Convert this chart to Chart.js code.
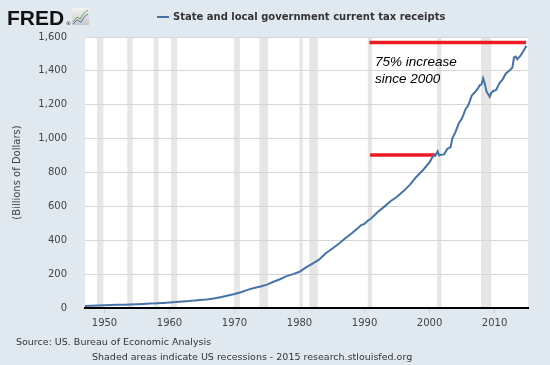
<!DOCTYPE html>
<html>
<head>
<meta charset="utf-8">
<script src="https://cdn.jsdelivr.net/npm/chart.js@4.4.1/dist/chart.umd.min.js"></script>
<style>
html, body { margin: 0; padding: 0; background: #e1e9f0; }
</style>
</head>
<body>
<canvas id="myChart" width="550" height="365"></canvas>
<script>
// State and local government current tax receipts (billions of dollars, SAAR)
const years = [
    1947, 1948, 1949, 1950, 1951, 1952, 1953, 1954, 1955, 1956,
    1957, 1958, 1959, 1960, 1961, 1962, 1963, 1964, 1965, 1966,
    1967, 1968, 1969, 1970, 1971, 1972, 1973, 1974, 1975, 1976,
    1977, 1978, 1979, 1980, 1981, 1982, 1983, 1984, 1985, 1986,
    1987, 1988, 1989, 1989.5, 1990, 1990.5, 1991, 1992, 1993, 1994,
    1995, 1996, 1997, 1998, 1999, 2000, 2000.5, 2001, 2001.25, 2001.5,
    2001.75, 2002.25, 2002.75, 2003.25, 2003.5, 2004, 2004.5, 2005, 2005.5, 2006,
    2006.5, 2007, 2007.5, 2007.75, 2008, 2008.25, 2008.5, 2008.75, 2009.25, 2009.5,
    2009.75, 2010.25, 2010.75, 2011.25, 2011.75, 2012.25, 2012.75, 2013, 2013.25, 2013.5,
    2014, 2014.5, 2014.9
];
const receipts = [
    12, 14, 15, 16, 17, 18.5, 19.5, 20.5, 22, 24,
    26, 27.5, 30, 33, 35, 38, 41, 45, 48, 52,
    57, 65, 74, 83, 93, 107, 118, 127, 138, 155,
    170, 188, 200, 214, 240, 262, 285, 322, 350, 378,
    410, 440, 472, 490, 497, 515, 528, 565, 597, 630,
    657, 690, 728, 775, 815, 860, 895, 905, 925, 900,
    905, 907, 940, 950, 1000, 1040, 1090, 1120, 1170, 1200,
    1255, 1275, 1300, 1316, 1320, 1356, 1326, 1280, 1247, 1270,
    1280, 1287, 1326, 1350, 1385, 1400, 1420, 1480, 1485, 1468,
    1490, 1520, 1548
];

// NBER recessions (shaded)
const recessionStart = [1948.83, 1953.5, 1957.58, 1960.25, 1969.92, 1973.83, 1980.0, 1981.5, 1990.5, 2001.17, 2007.92];
const recessionEnd   = [1949.83, 1954.33, 1958.33, 1961.17, 1970.83, 1975.17, 1980.5, 1982.83, 1991.17, 2001.83, 2009.5];

const xTickYears = [1950, 1960, 1970, 1980, 1990, 2000, 2010];

// red marker lines: level in 2000 and level now
const baseLineYears = [1990.85, 2001.0];
const baseLineValue = 903;
const topLineYears = [1990.75, 2014.85];
const topLineValue = 1568;

const noteLines = ['75% increase', 'since 2000'];
const noteYear = 1991.6;
const noteValues = [1452, 1352];

Chart.defaults.font.family = 'DejaVu Sans';

const fredDecor = {
    id: 'fredDecor',
    beforeDraw(chart) {
        const ctx = chart.ctx;
        const area = chart.chartArea;
        const x = chart.scales.x;
        ctx.save();
        ctx.fillStyle = '#e1e9f0';
        ctx.fillRect(0, 0, chart.width, chart.height);
        ctx.fillStyle = '#ffffff';
        ctx.fillRect(area.left, area.top, area.right - area.left, area.bottom - area.top);

        // recession bands
        ctx.fillStyle = '#e6e6e6';
        for (let i = 0; i < recessionStart.length; i++) {
            let x1 = x.getPixelForValue(recessionStart[i]);
            let x2 = x.getPixelForValue(recessionEnd[i]);
            ctx.fillRect(x1, area.top, x2 - x1, area.bottom - area.top);
        }

        // FRED logo
        ctx.fillStyle = '#111';
        ctx.font = 'bold 21px "Liberation Sans"';
        ctx.textBaseline = 'alphabetic';
        ctx.textAlign = 'left';
        ctx.fillText('FRED', 7, 25);
        ctx.font = '5px "DejaVu Sans"';
        ctx.fillText('®', 66, 25);
        let g = ctx.createLinearGradient(0, 8, 0, 25);
        g.addColorStop(0, '#f4f4f4');
        g.addColorStop(1, '#c8c8c8');
        ctx.fillStyle = g;
        ctx.fillRect(72, 8, 17, 17);
        ctx.lineWidth = 1;
        ctx.strokeStyle = '#6aa84f';
        ctx.beginPath();
        ctx.moveTo(73, 22); ctx.lineTo(77, 17); ctx.lineTo(80, 19); ctx.lineTo(84, 13); ctx.lineTo(88, 10);
        ctx.stroke();
        ctx.strokeStyle = '#4a78b0';
        ctx.beginPath();
        ctx.moveTo(73, 24); ctx.lineTo(77, 20); ctx.lineTo(81, 22); ctx.lineTo(85, 16); ctx.lineTo(88, 14);
        ctx.stroke();

        // legend
        ctx.strokeStyle = '#4572a7';
        ctx.lineWidth = 2;
        ctx.beginPath();
        ctx.moveTo(157, 17);
        ctx.lineTo(169, 17);
        ctx.stroke();
        ctx.fillStyle = '#333';
        ctx.font = 'bold 10px "DejaVu Sans"';
        ctx.textBaseline = 'middle';
        ctx.fillText('State and local government current tax receipts', 173, 17);

        // footer
        ctx.font = '9.5px "DejaVu Sans"';
        ctx.fillStyle = '#333';
        ctx.fillText('Source: US. Bureau of Economic Analysis', 16, 343);
        ctx.fillText('Shaded areas indicate US recessions - 2015 research.stlouisfed.org', 92, 358);
        ctx.restore();
    },
    afterDatasetsDraw(chart) {
        const ctx = chart.ctx;
        const x = chart.scales.x, y = chart.scales.y;
        ctx.save();
        ctx.fillStyle = '#000';
        ctx.font = 'italic 13.5px "Liberation Sans"';
        ctx.textAlign = 'left';
        ctx.textBaseline = 'middle';
        noteLines.forEach((t, i) => {
            ctx.fillText(t, x.getPixelForValue(noteYear), y.getPixelForValue(noteValues[i]));
        });
        ctx.restore();
    }
};

let ctx = document.getElementById('myChart').getContext('2d');
let myChart = new Chart(ctx, {
    type: 'line',
    data: {
        datasets: [
            {
                label: 'State and local government current tax receipts',
                data: years.map((yr, i) => ({ x: yr, y: receipts[i] })),
                borderColor: '#4572a7',
                borderWidth: 2,
                pointRadius: 0,
                tension: 0,
                fill: false
            },
            {
                label: 'base',
                data: baseLineYears.map(yr => ({ x: yr, y: baseLineValue })),
                borderColor: '#ed1c24',
                borderWidth: 3.5,
                pointRadius: 0
            },
            {
                label: 'top',
                data: topLineYears.map(yr => ({ x: yr, y: topLineValue })),
                borderColor: '#ed1c24',
                borderWidth: 3.5,
                pointRadius: 0
            }
        ]
    },
    options: {
        responsive: false,
        animation: false,
        layout: {
            padding: { left: 0, top: 37, right: 22, bottom: 0 }
        },
        plugins: {
            legend: { display: false },
            tooltip: { enabled: false }
        },
        scales: {
            x: {
                type: 'linear',
                min: 1947,
                max: 2015.15,
                afterFit: function (scale) { scale.height = 57; },
                afterBuildTicks: function (scale) {
                    scale.ticks = xTickYears.map(v => ({ value: v }));
                },
                ticks: {
                    padding: 4,
                    color: '#444',
                    font: { size: 10 },
                    maxRotation: 0,
                    callback: function (value) { return String(value); }
                },
                grid: {
                    drawOnChartArea: false,
                    drawTicks: true,
                    tickLength: 5,
                    color: '#c4d2e0'
                },
                border: { color: '#000', width: 2 }
            },
            y: {
                min: 0,
                max: 1600,
                afterFit: function (scale) { scale.width = 85; },
                title: {
                    display: true,
                    text: '(Billions of Dollars)',
                    color: '#444',
                    font: { size: 10 },
                    padding: { top: 11, bottom: 0 }
                },
                ticks: {
                    stepSize: 200,
                    padding: 18,
                    color: '#444',
                    font: { size: 10 },
                    callback: function (value) { return value.toLocaleString('en-US'); }
                },
                grid: {
                    color: '#d6d6d6',
                    drawTicks: false
                },
                border: { display: false }
            }
        }
    },
    plugins: [fredDecor]
});
</script>
</body>
</html>
